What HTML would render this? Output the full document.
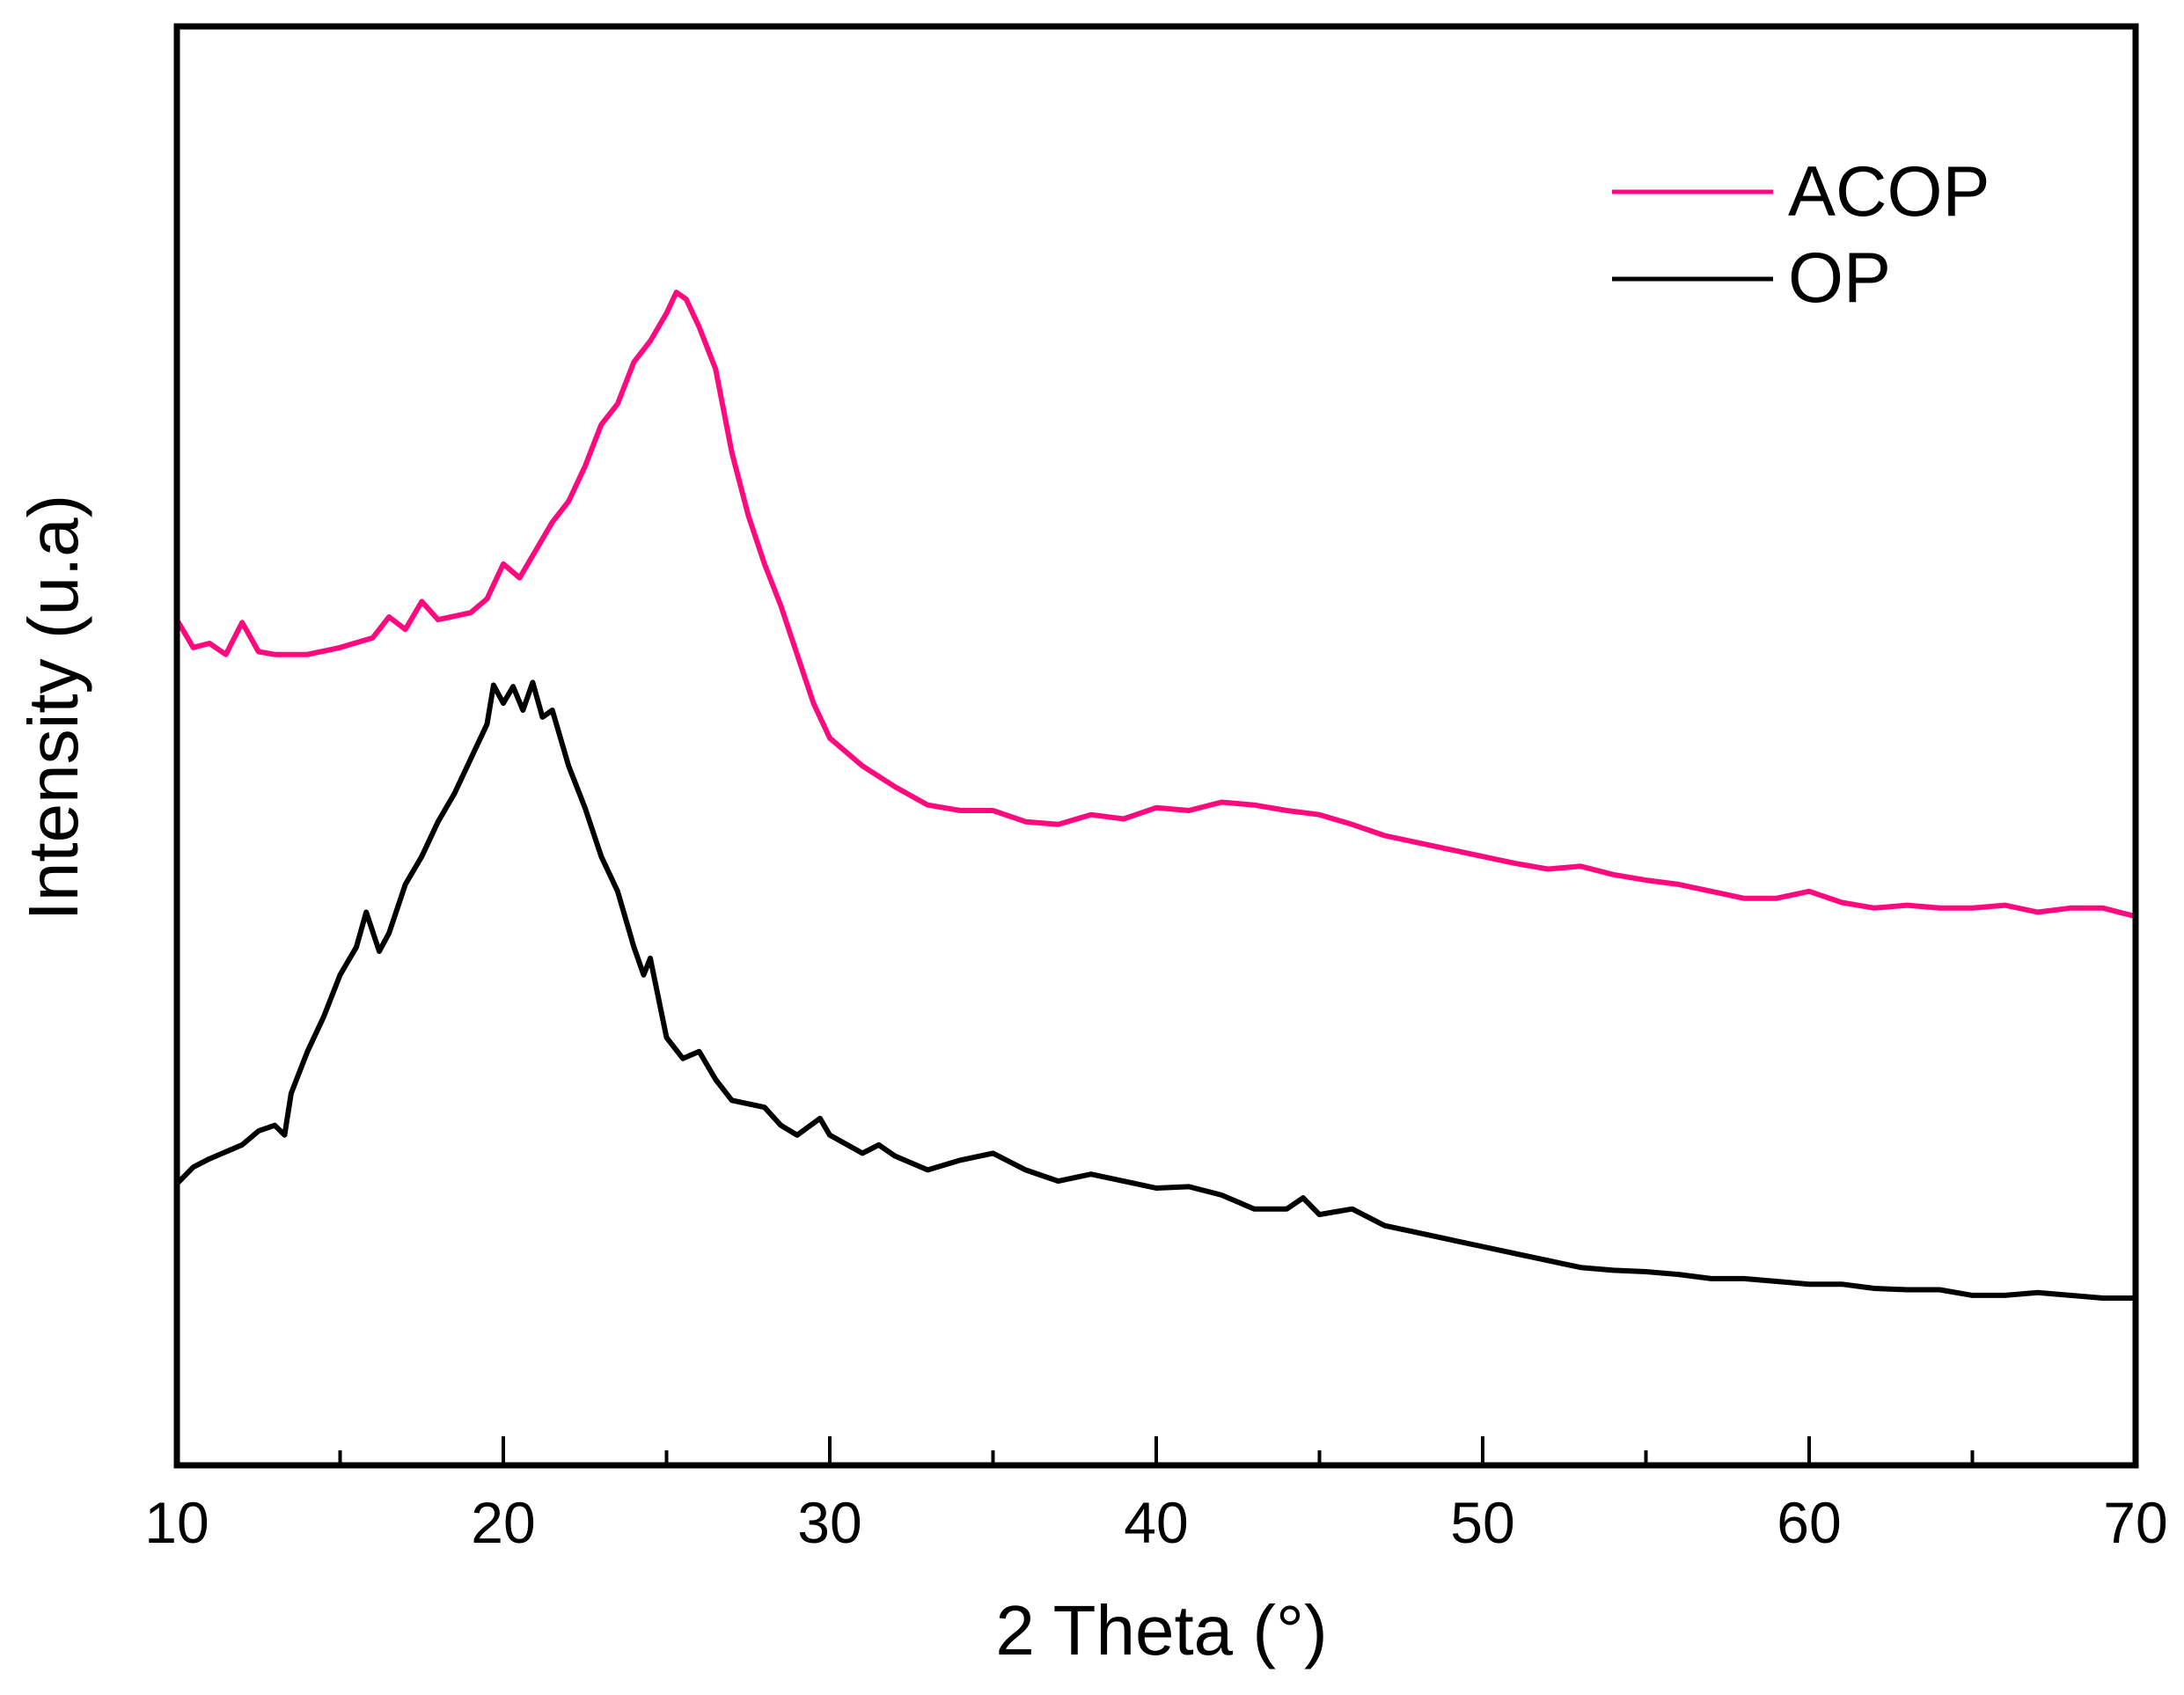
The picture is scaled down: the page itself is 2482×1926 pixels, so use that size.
<!DOCTYPE html>
<html><head><meta charset="utf-8"><style>
html,body{margin:0;padding:0;background:#fff;}
svg{display:block;font-family:"Liberation Sans",Arial,sans-serif;}
</style></head><body>
<svg id="chart" width="2482" height="1926" viewBox="0 0 2482 1926" xmlns="http://www.w3.org/2000/svg">
<g id="plot"></g>
</svg>
<script>
const thetaACOP=[10,10.5,11,11.5,12,12.5,13,14,15,16,16.5,17,17.5,18,19,19.5,20,20.5,21,21.5,22,22.5,23,23.5,24,24.5,25,25.3,25.6,26,26.5,27,27.5,28,28.5,29,29.5,30,31,32,33,34,35,36,37,38,39,40,41,42,43,44,45,46,47,48,49,50,51,52,53,54,55,56,57,58,59,60,61,62,63,64,65,66,67,68,69,70];
const acopDisp=[445,465,462,470,447,468,470,470,465,458,443,452,432,445,440,430,405,415,395,375,360,335,305,290,260,245,225,210,215,235,265,325,370,405,435,470,505,530,550,565,578,582,582,590,592,585,588,580,582,576,578,582,585,592,600,605,610,615,620,624,622,628,632,635,640,645,645,640,648,652,650,652,652,650,655,652,652,658];
const thetaOP=[10,10.5,11,12,12.5,13,13.3,13.5,14,14.5,15,15.5,15.8,16.2,16.5,17,17.5,18,18.5,19,19.5,19.7,20,20.3,20.6,20.9,21.2,21.5,22,22.5,23,23.5,24,24.3,24.5,25,25.5,26,26.5,27,28,28.5,29,29.7,30,31,31.5,32,33,34,35,36,37,38,39,40,41,42,43,44,44.5,45,46,47,48,49,50,51,52,53,54,55,56,57,58,59,60,61,62,63,64,65,66,67,68,69,70];
const opDisp=[850,838,832,822,812,808,815,785,755,730,700,680,655,683,670,635,615,590,570,545,520,492,505,493,510,490,515,510,550,580,615,640,680,700,688,745,760,755,775,790,795,808,815,803,815,828,822,830,840,833,828,840,848,843,848,853,852,858,868,868,860,872,868,880,885,890,895,900,905,910,912,913,915,918,918,920,922,922,925,926,926,930,930,928,930,932,932];
const acopValues=acopDisp.map(d=>1052-d);
const opValues=opDisp.map(d=>1052-d);
const xTicks=[10,20,30,40,50,60,70];
const xMinor=[15,25,35,45,55,65];

const L=201,R=2427,T=30,B=1665;
const xs=v=>L+(v-10)/60*(R-L);
const ys=v=>B-v*1.583;
const NS="http://www.w3.org/2000/svg";
const g=document.getElementById('plot');
function mk(tag,attrs){const e=document.createElementNS(NS,tag);for(const k in attrs)e.setAttribute(k,attrs[k]);g.appendChild(e);return e;}

function series(xsArr,vals,color,name){
  const d=xsArr.map((x,i)=>(i?'L':'M')+xs(x).toFixed(1)+','+ys(vals[i]).toFixed(1)).join(' ');
  const p=mk('path',{d:d,fill:'none',stroke:color,'stroke-width':6,'stroke-linejoin':'round'});
  
  
}
series(thetaACOP,acopValues,'#ff0a7e','acop-line');
series(thetaOP,opValues,'#000','op-line');

const frame=mk('rect',{x:L,y:T,width:R-L,height:B-T,fill:'none',stroke:'#000','stroke-width':7});



xTicks.forEach(t=>{
  const tk=mk('line',{x1:xs(t),x2:xs(t),y1:B,y2:B-33,stroke:'#000','stroke-width':4});
  
  
  const lb=mk('text',{x:xs(t),y:1753,'font-size':66,'text-anchor':'middle'});
  lb.textContent=t;
  
  
});
xMinor.forEach(t=>{
  const tk=mk('line',{x1:xs(t),x2:xs(t),y1:B,y2:B-17,stroke:'#000','stroke-width':4});
  
  
});

const xt=mk('text',{x:1320,y:1880,'font-size':80,'text-anchor':'middle'});
xt.textContent='2 Theta (°)';


const yt=mk('text',{x:0,y:0,'font-size':80,'text-anchor':'middle',transform:'translate(88,804) rotate(-90)'});
yt.textContent='Intensity (u.a)';



const l1=mk('line',{x1:1832,x2:2015,y1:218,y2:218,stroke:'#ff0a7e','stroke-width':5});


const t1=mk('text',{x:2032,y:245,'font-size':81});
t1.textContent='ACOP';


const l2=mk('line',{x1:1832,x2:2015,y1:317,y2:317,stroke:'#000','stroke-width':5});


const t2=mk('text',{x:2032,y:343,'font-size':81});
t2.textContent='OP';


</script>
</body></html>
